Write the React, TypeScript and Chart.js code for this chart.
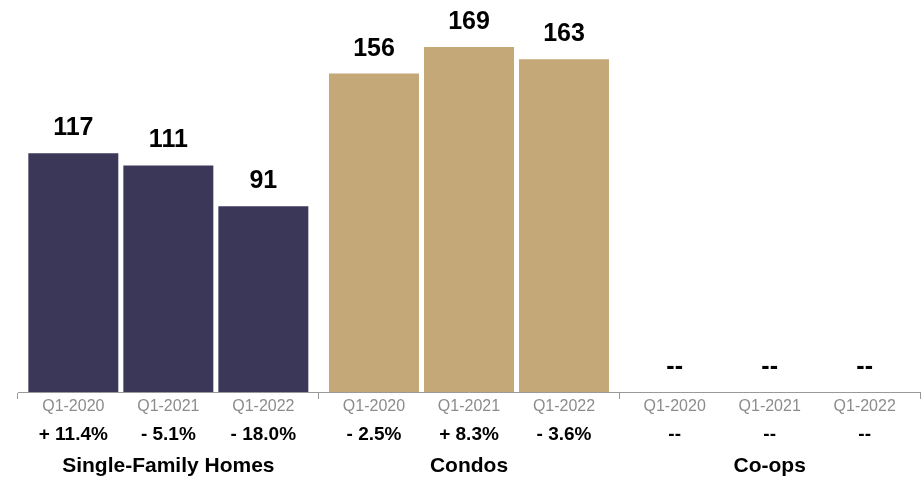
import React, { useEffect, useRef } from "react";
import { Chart, registerables } from "chart.js";

Chart.register(...registerables);

const groups = ["Single-Family Homes", "Condos", "Co-ops"];
const periods = ["Q1-2020", "Q1-2021", "Q1-2022"];
const singleFamily = [117, 111, 91];
const condos = [156, 169, 163];
const coops: (number | null)[] = [null, null, null];
const singleFamilyChange = ["+ 11.4%", "- 5.1%", "- 18.0%"];
const condosChange = ["- 2.5%", "+ 8.3%", "- 3.6%"];
const coopsChange = ["--", "--", "--"];

const NAVY = "#3b3759";
const TAN = "#c4a878";
const FONT = "'Liberation Sans', Arial, Helvetica, sans-serif";

export default function App() {
  const ref = useRef<HTMLCanvasElement | null>(null);

  useEffect(() => {
    if (!ref.current) return;
    const changes = [singleFamilyChange, condosChange, coopsChange];

    const labelPlugin = {
      id: "labels",
      afterDatasetsDraw(chart: any) {
        const ctx = chart.ctx;
        const y = chart.scales.y;
        const x = chart.scales.x;
        ctx.save();
        ctx.textAlign = "center";
        chart.data.datasets.forEach((ds: any, i: number) => {
          const meta = chart.getDatasetMeta(i);
          meta.data.forEach((el: any, j: number) => {
            const v = ds.data[j];
            const cx = el.x;
            const top = v == null ? y.getPixelForValue(0) : y.getPixelForValue(v);
            ctx.fillStyle = "#000";
            ctx.font = `bold 25px ${FONT}`;
            ctx.textBaseline = "alphabetic";
            ctx.fillText(v == null ? "--" : String(v), cx, top - 18);
            ctx.textBaseline = "middle";
            ctx.fillStyle = "#8c8c8c";
            ctx.font = `16px ${FONT}`;
            ctx.fillText(periods[i], cx, x.top + 15);
            ctx.fillStyle = "#000";
            ctx.font = `bold 19px ${FONT}`;
            ctx.fillText(changes[j][i], cx, x.top + 43);
          });
        });
        ctx.restore();
      },
    };

    const chart = new Chart(ref.current, {
      type: "bar",
      data: {
        labels: groups,
        datasets: periods.map((p, i) => ({
          label: p,
          data: [singleFamily[i], condos[i], coops[i]],
          backgroundColor: [NAVY, TAN, TAN],
          borderWidth: 0,
          categoryPercentage: 0.948,
          barPercentage: 0.947,
        })),
      },
      options: {
        animation: false,
        responsive: true,
        maintainAspectRatio: false,
        layout: { padding: { left: 18, right: 3, top: 0, bottom: 0 } },
        plugins: { legend: { display: false }, tooltip: { enabled: false } },
        scales: {
          x: {
            afterFit: (scale: any) => {
              scale.height = 89;
            },
            grid: {
              display: true,
              drawOnChartArea: false,
              drawTicks: true,
              tickLength: 7,
              color: "#999",
              offset: true,
            },
            border: { display: true, color: "#999", width: 1 },
            ticks: {
              color: "#000",
              font: { family: FONT, size: 21, weight: "bold" },
              padding: 55,
              maxRotation: 0,
              autoSkip: false,
            },
          },
          y: { display: false, min: 0, max: 192 },
        },
      },
      plugins: [labelPlugin],
    } as any);
    return () => chart.destroy();
  }, []);

  return (
    <div style={{ position: "fixed", left: 0, top: 0, width: 923, height: 481, background: "#fff" }}>
      <canvas ref={ref} />
    </div>
  );
}
